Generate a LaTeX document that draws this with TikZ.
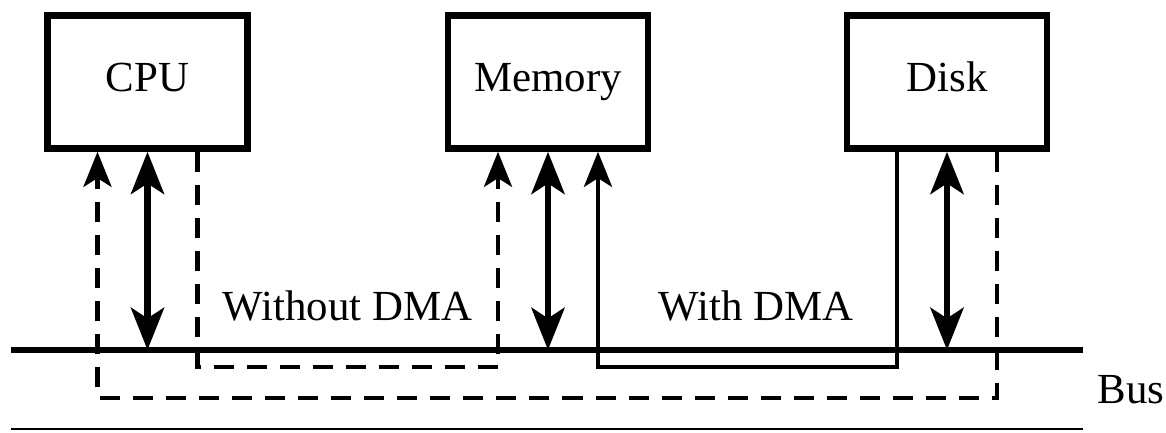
\documentclass[tikz,border=0pt]{standalone}
\usepackage{fontspec}
\setmainfont{Liberation Serif}
\usetikzlibrary{arrows.meta}
\begin{document}
\begin{tikzpicture}[font=\fontsize{12.2pt}{14pt}\selectfont,
        unit/.style={draw, line width=1.85pt, minimum width=2cm, minimum height=1.33cm, inner sep=0pt, text height=0.75em, text depth=0.2em},
        buswire/.style={line width=1.85pt},
        xfer/.style={line width=1.9pt, {Stealth[length=12pt,width=9.4pt,inset=3pt]}-{Stealth[length=12pt,width=9.4pt,inset=3pt]}},
        cpath/.style={line width=1.15pt, dash pattern=on 5.7pt off 3.7pt},
        dpath/.style={line width=1.2pt},
        thintip/.style={-{Stealth[length=10pt,width=8pt,inset=2.5pt]}},
        lbl/.style={anchor=base west, inner sep=0pt}]
    \useasboundingbox (0,0) rectangle (11.66,4.32);
    \node[unit] (cpu) at (1.475,3.50) {CPU};
    \node[unit] (mem) at (5.48,3.50) {Memory};
    \node[unit] (disk) at (9.47,3.50) {Disk};
    \coordinate (busL) at (0.11,0.82);
    \coordinate (busR) at (10.83,0.82);
    \coordinate (baseL) at (0.11,0.03);
    \coordinate (baseR) at (10.83,0.03);
    \coordinate (upper) at (0,0.65);
    \coordinate (lower) at (0,0.34);
    \coordinate (cpuA) at ([xshift=-5mm]cpu.south);
    \coordinate (cpuB) at ([xshift=5mm]cpu.south);
    \coordinate (memA) at ([xshift=-5mm]mem.south);
    \coordinate (memB) at ([xshift=5mm]mem.south);
    \coordinate (diskA) at ([xshift=-5mm]disk.south);
    \coordinate (diskB) at ([xshift=5mm]disk.south);
    \draw[buswire] (busL) -- (busR);
    \draw[line width=0.75pt] (baseL) -- (baseR);
    \draw[xfer] (cpu.south) -- (cpu.south |- busL);
    \draw[xfer] (mem.south) -- (mem.south |- busL);
    \draw[xfer] (disk.south) -- (disk.south |- busL);
    \draw[cpath, thintip] (cpuB) -- (cpuB |- upper) -| (memA);
    \draw[cpath, thintip] (diskB) -- (diskB |- lower) -| (cpuA);
    \draw[dpath, thintip] (diskA) -- (diskA |- upper) -| (memB);
    \node[lbl] (nodma) at (2.22,1.12) {Without DMA};
    \node[lbl] (dma) at (6.58,1.12) {With DMA};
    \node[lbl] (bus) at (10.97,0.29) {Bus};
\end{tikzpicture}
\end{document}
